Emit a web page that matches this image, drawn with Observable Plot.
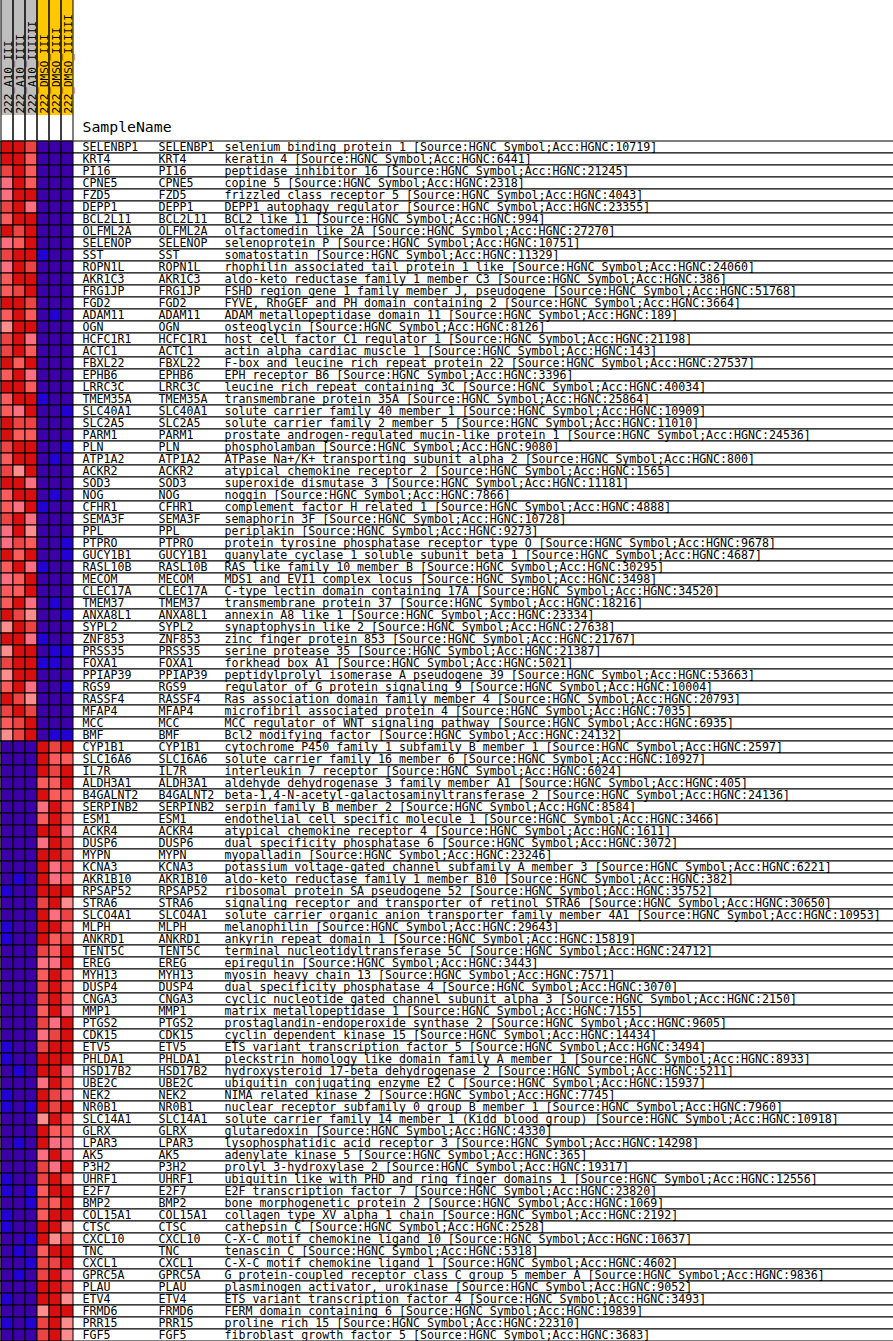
<!DOCTYPE html>
<html><head><meta charset="utf-8">
<script src="https://cdn.jsdelivr.net/npm/d3@7"></script>
<script src="https://cdn.jsdelivr.net/npm/@observablehq/plot@0.6"></script>
<style>
body{margin:0;background:#fff;}
svg{display:block;}
</style></head><body><div id="chart"></div>
<script>
const samples = ["222_A10_III","222_A10_IIII","222_A10_IIIIII","222_DMSO_III","222_DMSO_IIII","222_DMSO_IIIIII"];
const sampleGroups = ["A10","A10","A10","DMSO","DMSO","DMSO"];
const groupColors = ["#bebebe","#ffc800"];
const columnTitle = "SampleName";

const genes = ["SELENBP1","KRT4","PI16","CPNE5","FZD5","DEPP1","BCL2L11","OLFML2A","SELENOP","SST",
"ROPN1L","AKR1C3","FRG1JP","FGD2","ADAM11","OGN","HCFC1R1","ACTC1","FBXL22","EPHB6",
"LRRC3C","TMEM35A","SLC40A1","SLC2A5","PARM1","PLN","ATP1A2","ACKR2","SOD3","NOG",
"CFHR1","SEMA3F","PPL","PTPRO","GUCY1B1","RASL10B","MECOM","CLEC17A","TMEM37","ANXA8L1",
"SYPL2","ZNF853","PRSS35","FOXA1","PPIAP39","RGS9","RASSF4","MFAP4","MCC","BMF",
"CYP1B1","SLC16A6","IL7R","ALDH3A1","B4GALNT2","SERPINB2","ESM1","ACKR4","DUSP6","MYPN",
"KCNA3","AKR1B10","RPSAP52","STRA6","SLCO4A1","MLPH","ANKRD1","TENT5C","EREG","MYH13",
"DUSP4","CNGA3","MMP1","PTGS2","CDK15","ETV5","PHLDA1","HSD17B2","UBE2C","NEK2",
"NR0B1","SLC14A1","GLRX","LPAR3","AK5","P3H2","UHRF1","E2F7","BMP2","COL15A1",
"CTSC","CXCL10","TNC","CXCL1","GPRC5A","PLAU","ETV4","FRMD6","PRR15","FGF5"];

const geneSymbols = genes.slice();

const descriptions = [
"selenium binding protein 1 [Source:HGNC Symbol;Acc:HGNC:10719]",
"keratin 4 [Source:HGNC Symbol;Acc:HGNC:6441]",
"peptidase inhibitor 16 [Source:HGNC Symbol;Acc:HGNC:21245]",
"copine 5 [Source:HGNC Symbol;Acc:HGNC:2318]",
"frizzled class receptor 5 [Source:HGNC Symbol;Acc:HGNC:4043]",
"DEPP1 autophagy regulator [Source:HGNC Symbol;Acc:HGNC:23355]",
"BCL2 like 11 [Source:HGNC Symbol;Acc:HGNC:994]",
"olfactomedin like 2A [Source:HGNC Symbol;Acc:HGNC:27270]",
"selenoprotein P [Source:HGNC Symbol;Acc:HGNC:10751]",
"somatostatin [Source:HGNC Symbol;Acc:HGNC:11329]",
"rhophilin associated tail protein 1 like [Source:HGNC Symbol;Acc:HGNC:24060]",
"aldo-keto reductase family 1 member C3 [Source:HGNC Symbol;Acc:HGNC:386]",
"FSHD region gene 1 family member J, pseudogene [Source:HGNC Symbol;Acc:HGNC:51768]",
"FYVE, RhoGEF and PH domain containing 2 [Source:HGNC Symbol;Acc:HGNC:3664]",
"ADAM metallopeptidase domain 11 [Source:HGNC Symbol;Acc:HGNC:189]",
"osteoglycin [Source:HGNC Symbol;Acc:HGNC:8126]",
"host cell factor C1 regulator 1 [Source:HGNC Symbol;Acc:HGNC:21198]",
"actin alpha cardiac muscle 1 [Source:HGNC Symbol;Acc:HGNC:143]",
"F-box and leucine rich repeat protein 22 [Source:HGNC Symbol;Acc:HGNC:27537]",
"EPH receptor B6 [Source:HGNC Symbol;Acc:HGNC:3396]",
"leucine rich repeat containing 3C [Source:HGNC Symbol;Acc:HGNC:40034]",
"transmembrane protein 35A [Source:HGNC Symbol;Acc:HGNC:25864]",
"solute carrier family 40 member 1 [Source:HGNC Symbol;Acc:HGNC:10909]",
"solute carrier family 2 member 5 [Source:HGNC Symbol;Acc:HGNC:11010]",
"prostate androgen-regulated mucin-like protein 1 [Source:HGNC Symbol;Acc:HGNC:24536]",
"phospholamban [Source:HGNC Symbol;Acc:HGNC:9080]",
"ATPase Na+/K+ transporting subunit alpha 2 [Source:HGNC Symbol;Acc:HGNC:800]",
"atypical chemokine receptor 2 [Source:HGNC Symbol;Acc:HGNC:1565]",
"superoxide dismutase 3 [Source:HGNC Symbol;Acc:HGNC:11181]",
"noggin [Source:HGNC Symbol;Acc:HGNC:7866]",
"complement factor H related 1 [Source:HGNC Symbol;Acc:HGNC:4888]",
"semaphorin 3F [Source:HGNC Symbol;Acc:HGNC:10728]",
"periplakin [Source:HGNC Symbol;Acc:HGNC:9273]",
"protein tyrosine phosphatase receptor type O [Source:HGNC Symbol;Acc:HGNC:9678]",
"guanylate cyclase 1 soluble subunit beta 1 [Source:HGNC Symbol;Acc:HGNC:4687]",
"RAS like family 10 member B [Source:HGNC Symbol;Acc:HGNC:30295]",
"MDS1 and EVI1 complex locus [Source:HGNC Symbol;Acc:HGNC:3498]",
"C-type lectin domain containing 17A [Source:HGNC Symbol;Acc:HGNC:34520]",
"transmembrane protein 37 [Source:HGNC Symbol;Acc:HGNC:18216]",
"annexin A8 like 1 [Source:HGNC Symbol;Acc:HGNC:23334]",
"synaptophysin like 2 [Source:HGNC Symbol;Acc:HGNC:27638]",
"zinc finger protein 853 [Source:HGNC Symbol;Acc:HGNC:21767]",
"serine protease 35 [Source:HGNC Symbol;Acc:HGNC:21387]",
"forkhead box A1 [Source:HGNC Symbol;Acc:HGNC:5021]",
"peptidylprolyl isomerase A pseudogene 39 [Source:HGNC Symbol;Acc:HGNC:53663]",
"regulator of G protein signaling 9 [Source:HGNC Symbol;Acc:HGNC:10004]",
"Ras association domain family member 4 [Source:HGNC Symbol;Acc:HGNC:20793]",
"microfibril associated protein 4 [Source:HGNC Symbol;Acc:HGNC:7035]",
"MCC regulator of WNT signaling pathway [Source:HGNC Symbol;Acc:HGNC:6935]",
"Bcl2 modifying factor [Source:HGNC Symbol;Acc:HGNC:24132]",
"cytochrome P450 family 1 subfamily B member 1 [Source:HGNC Symbol;Acc:HGNC:2597]",
"solute carrier family 16 member 6 [Source:HGNC Symbol;Acc:HGNC:10927]",
"interleukin 7 receptor [Source:HGNC Symbol;Acc:HGNC:6024]",
"aldehyde dehydrogenase 3 family member A1 [Source:HGNC Symbol;Acc:HGNC:405]",
"beta-1,4-N-acetyl-galactosaminyltransferase 2 [Source:HGNC Symbol;Acc:HGNC:24136]",
"serpin family B member 2 [Source:HGNC Symbol;Acc:HGNC:8584]",
"endothelial cell specific molecule 1 [Source:HGNC Symbol;Acc:HGNC:3466]",
"atypical chemokine receptor 4 [Source:HGNC Symbol;Acc:HGNC:1611]",
"dual specificity phosphatase 6 [Source:HGNC Symbol;Acc:HGNC:3072]",
"myopalladin [Source:HGNC Symbol;Acc:HGNC:23246]",
"potassium voltage-gated channel subfamily A member 3 [Source:HGNC Symbol;Acc:HGNC:6221]",
"aldo-keto reductase family 1 member B10 [Source:HGNC Symbol;Acc:HGNC:382]",
"ribosomal protein SA pseudogene 52 [Source:HGNC Symbol;Acc:HGNC:35752]",
"signaling receptor and transporter of retinol STRA6 [Source:HGNC Symbol;Acc:HGNC:30650]",
"solute carrier organic anion transporter family member 4A1 [Source:HGNC Symbol;Acc:HGNC:10953]",
"melanophilin [Source:HGNC Symbol;Acc:HGNC:29643]",
"ankyrin repeat domain 1 [Source:HGNC Symbol;Acc:HGNC:15819]",
"terminal nucleotidyltransferase 5C [Source:HGNC Symbol;Acc:HGNC:24712]",
"epiregulin [Source:HGNC Symbol;Acc:HGNC:3443]",
"myosin heavy chain 13 [Source:HGNC Symbol;Acc:HGNC:7571]",
"dual specificity phosphatase 4 [Source:HGNC Symbol;Acc:HGNC:3070]",
"cyclic nucleotide gated channel subunit alpha 3 [Source:HGNC Symbol;Acc:HGNC:2150]",
"matrix metallopeptidase 1 [Source:HGNC Symbol;Acc:HGNC:7155]",
"prostaglandin-endoperoxide synthase 2 [Source:HGNC Symbol;Acc:HGNC:9605]",
"cyclin dependent kinase 15 [Source:HGNC Symbol;Acc:HGNC:14434]",
"ETS variant transcription factor 5 [Source:HGNC Symbol;Acc:HGNC:3494]",
"pleckstrin homology like domain family A member 1 [Source:HGNC Symbol;Acc:HGNC:8933]",
"hydroxysteroid 17-beta dehydrogenase 2 [Source:HGNC Symbol;Acc:HGNC:5211]",
"ubiquitin conjugating enzyme E2 C [Source:HGNC Symbol;Acc:HGNC:15937]",
"NIMA related kinase 2 [Source:HGNC Symbol;Acc:HGNC:7745]",
"nuclear receptor subfamily 0 group B member 1 [Source:HGNC Symbol;Acc:HGNC:7960]",
"solute carrier family 14 member 1 (Kidd blood group) [Source:HGNC Symbol;Acc:HGNC:10918]",
"glutaredoxin [Source:HGNC Symbol;Acc:HGNC:4330]",
"lysophosphatidic acid receptor 3 [Source:HGNC Symbol;Acc:HGNC:14298]",
"adenylate kinase 5 [Source:HGNC Symbol;Acc:HGNC:365]",
"prolyl 3-hydroxylase 2 [Source:HGNC Symbol;Acc:HGNC:19317]",
"ubiquitin like with PHD and ring finger domains 1 [Source:HGNC Symbol;Acc:HGNC:12556]",
"E2F transcription factor 7 [Source:HGNC Symbol;Acc:HGNC:23820]",
"bone morphogenetic protein 2 [Source:HGNC Symbol;Acc:HGNC:1069]",
"collagen type XV alpha 1 chain [Source:HGNC Symbol;Acc:HGNC:2192]",
"cathepsin C [Source:HGNC Symbol;Acc:HGNC:2528]",
"C-X-C motif chemokine ligand 10 [Source:HGNC Symbol;Acc:HGNC:10637]",
"tenascin C [Source:HGNC Symbol;Acc:HGNC:5318]",
"C-X-C motif chemokine ligand 1 [Source:HGNC Symbol;Acc:HGNC:4602]",
"G protein-coupled receptor class C group 5 member A [Source:HGNC Symbol;Acc:HGNC:9836]",
"plasminogen activator, urokinase [Source:HGNC Symbol;Acc:HGNC:9052]",
"ETS variant transcription factor 4 [Source:HGNC Symbol;Acc:HGNC:3493]",
"FERM domain containing 6 [Source:HGNC Symbol;Acc:HGNC:19839]",
"proline rich 15 [Source:HGNC Symbol;Acc:HGNC:22310]",
"fibroblast growth factor 5 [Source:HGNC Symbol;Acc:HGNC:3683]"];

// Per-row colour level of each of the 6 samples (D dark red … S salmon, P purple, B blue)
const levels = [
"DDMPPP","DDLPPP","MDLPPP","KDLPPP","KDDPPP","MDKPPP","LDDPPP","DMDPPP","KLDPPP","MDDBPP",
"KDMPPP","LDDPPP","LMDPPP","DDMPPP","LDLPBP","SDDPPP","MDKPPP","MDLPPP","DLDPPP","LDKPPP",
"DDLPPP","LDDBPP","LKDPPB","DMMPPP","DLLPPP","MDDPPB","LDDPBP","MSDPPP","DDKPPP","LDDPBP",
"LKDBPP","MDKPPP","KDSPPP","KMLPPB","DLDPPB","LDKBPP","KLDPPP","LLDPPP","LDKPBP","DMSPPB",
"SDMPPP","DDKBPP","SDDPBB","MDDBBP","SDDPPP","LDKPPB","DMSPPP","MDMPPP","LMDPPP","SMDPBB",
"PPPDMD","PPPDLL","PPPDMD","PPPLLD","PPPDLL","PPPKDL","PPPLDL","PPPDDK","PPPKDM","PPPDDM",
"PPPDKM","PBPDKL","BPPDDD","PPPMDS","PPPDKM","BPPDDL","BPPDLM","PPPMLD","PPPKKD","PPPLDL",
"PPPMDL","PPPMDL","PPPLDK","PPPMKD","PPPKMD","BPPMDD","BPPDDD","PBPDDK","PPPKDL","BPPDMK",
"BPBDMD","PPPSDL","PPPDLL","PBPDKK","PPPKDK","PPPMKD","BPPMDL","BPBLDD","PPBMLD","BPPLDD",
"BPPDDS","PPBDSM","PBPLDD","PPBMMD","PBPMDK","PPPDDM","BPPDDS","PPPSDD","BPBMDS","PPPMDS"];

const levelCodes  = ["D","M","L","K","S","P","B"];
const levelColors = ["#d90f0f","#ee4343","#fd5b5b","#fd6f80","#fd8c8c","#3c00a9","#2300d4"];

const cells = [];
genes.forEach((g, i) => samples.forEach((s, j) => cells.push({gene: g, sample: s, level: levels[i][j]})));

const FONT = "DejaVu Sans Mono";

const header = Plot.plot({
  width: 893, height: 140, margin: 0,
  style: {background: "white", fontFamily: FONT, fontSize: "11px", color: "black"},
  x: {type: "band", domain: samples, range: [0.5, 72.5], padding: 0, axis: null},
  y: {type: "band", domain: ["hdr"], range: [0, 115], padding: 0, axis: null},
  color: {type: "ordinal", domain: ["A10", "DMSO"], range: groupColors},
  marks: [
    Plot.cell(samples, {x: d => d, y: () => "hdr", fill: (d, i) => sampleGroups[i]}),
    Plot.cell(samples, {x: d => d, fill: "none", stroke: "black", strokeWidth: 1, insetTop: -3, insetBottom: -3}),
    Plot.text(samples, {x: d => d, y: () => "hdr", text: d => d, rotate: -90, textAnchor: "start", dx: 0.5, dy: 55.5, fill: "black", fontSize: 11}),
    Plot.text([columnTitle], {frameAnchor: "top-left", dx: 82, dy: 121, text: d => d, textAnchor: "start", fontSize: 14.8, fill: "black"})
  ]
});

const main = Plot.plot({
  width: 893, height: 1201, margin: 0,
  style: {background: "white", fontFamily: FONT, fontSize: "11.6px", color: "black"},
  x: {type: "band", domain: samples, range: [0.5, 72.5], padding: 0, axis: null},
  y: {type: "band", domain: genes, range: [0.5, 1200.5], padding: 0, axis: null},
  color: {type: "ordinal", domain: levelCodes, range: levelColors},
  marks: [
    Plot.cell(genes, {y: d => d, fill: "white", stroke: "black", strokeWidth: 1, insetRight: -3}),
    Plot.cell(cells, {x: "sample", y: "gene", fill: "level", stroke: "black", strokeWidth: 1}),
    Plot.text(genes, {y: d => d, text: d => d, frameAnchor: "left", dx: 82, textAnchor: "start", fill: "black", fontSize: 11.6}),
    Plot.text(genes, {y: d => d, text: (d, i) => geneSymbols[i], frameAnchor: "left", dx: 158, textAnchor: "start", fill: "black", fontSize: 11.6}),
    Plot.text(genes, {y: d => d, text: (d, i) => descriptions[i], frameAnchor: "left", dx: 224, textAnchor: "start", fill: "black", fontSize: 11.6})
  ]
});

const root = document.getElementById("chart");
root.appendChild(header);
root.appendChild(main);
</script></body></html>
